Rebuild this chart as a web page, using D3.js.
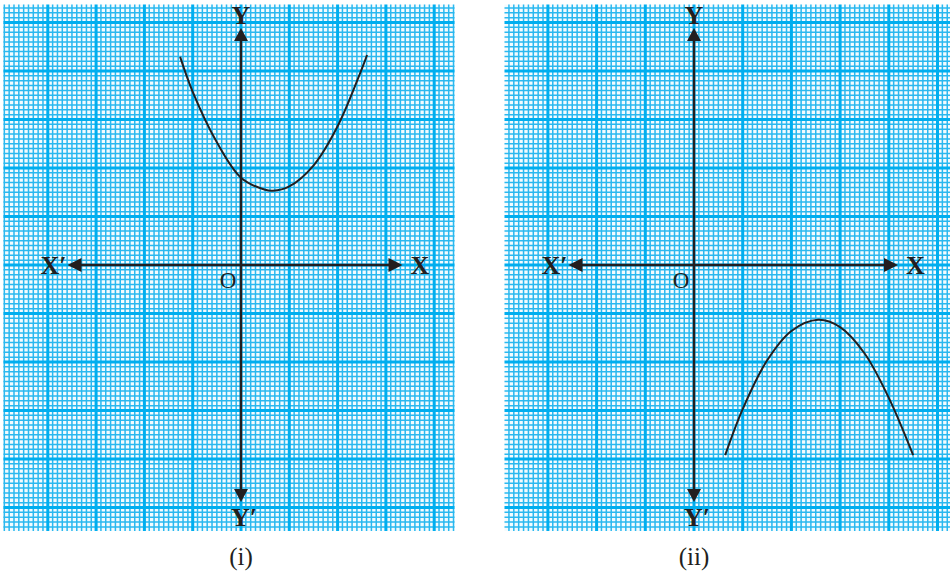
<!DOCTYPE html>
<html><head><meta charset="utf-8">
<script src="https://cdn.jsdelivr.net/npm/d3@7"></script>
<style>body{margin:0;background:#fff}svg{display:block}</style>
</head><body>
<svg id="c" width="950" height="573"></svg>
<script>
// Curve (i): upward parabola (grid units, 1 = one major square)
const curve1X = [-1.26, -1.0, -0.5, 0.0, 0.5, 0.66, 1.0, 1.5, 2.0, 2.5, 2.61];
const curve1Y = [4.29, 3.57, 2.53, 1.80, 1.55, 1.53, 1.62, 2.05, 2.86, 4.04, 4.33];
// Curve (ii): downward parabola
const curve2X = [0.64, 1.0, 1.5, 2.0, 2.55, 3.0, 3.5, 4.0, 4.5];
const curve2Y = [-3.92, -2.97, -1.97, -1.36, -1.13, -1.28, -1.82, -2.74, -3.92];
const panelLabels = ["(i)", "(ii)"];
const axisLabels = ["X", "X′", "Y", "Y′"];

const svg = d3.select("#c");

const panels = [
  {ox:241, unitX:48.3, left:3.5, right:454.5, xs:curve1X, ys:curve1Y, label:panelLabels[0]},
  {ox:694, unitX:48.7, left:504.5, right:950, xs:curve2X, ys:curve2Y, label:panelLabels[1]}
];
const oy = 265, unitY = 48.5, gTop = 4.5, gBottom = 531;

panels.forEach(p => {
  const x = d3.scaleLinear().domain([0,1]).range([p.ox, p.ox + p.unitX]);
  const y = d3.scaleLinear().domain([0,1]).range([oy, oy - unitY]);
  const g = svg.append("g");
  const uL = x.invert(p.left), uR = x.invert(p.right);
  const vT = y.invert(gTop), vB = y.invert(gBottom);
  g.append("rect").attr("x", p.left).attr("y", gTop).attr("width", p.right - p.left).attr("height", gBottom - gTop).attr("fill", "#f4fbfe");
  const vx = [];
  for (let k = Math.ceil(uL*10); k <= Math.floor(uR*10); k++) vx.push(k);
  const hy = [];
  for (let k = Math.ceil(vB*10); k <= Math.floor(vT*10); k++) hy.push(k);
  g.selectAll(".mv").data(vx.filter(k => k % 10 !== 0)).join("line")
    .attr("x1", k => x(k/10)).attr("x2", k => x(k/10)).attr("y1", gTop).attr("y2", gBottom)
    .attr("stroke", "#2ab8ef").attr("stroke-width", 1.5);
  g.selectAll(".mh").data(hy.filter(k => k % 10 !== 0)).join("line")
    .attr("y1", k => y(k/10)).attr("y2", k => y(k/10)).attr("x1", p.left).attr("x2", p.right)
    .attr("stroke", "#2ab8ef").attr("stroke-width", 1.5);
  g.selectAll(".Mv").data(vx.filter(k => k % 10 === 0)).join("line")
    .attr("x1", k => x(k/10)).attr("x2", k => x(k/10)).attr("y1", gTop).attr("y2", gBottom)
    .attr("stroke", "#00aeef").attr("stroke-width", 3);
  g.selectAll(".Mh").data(hy.filter(k => k % 10 === 0)).join("line")
    .attr("y1", k => y(k/10)).attr("y2", k => y(k/10)).attr("x1", p.left).attr("x2", p.right)
    .attr("stroke", "#00aeef").attr("stroke-width", 3);

  const ax = "#231f20";
  const xl = p.left + 64, xr = p.right - 52;
  g.append("line").attr("x1", xl + 8).attr("x2", xr - 8).attr("y1", oy).attr("y2", oy).attr("stroke", ax).attr("stroke-width", 2.4);
  g.append("line").attr("x1", p.ox).attr("x2", p.ox).attr("y1", 36).attr("y2", 494).attr("stroke", ax).attr("stroke-width", 2.4);
  const tri = (pts) => g.append("path").attr("d", d3.line()(pts) + "Z").attr("fill", ax);
  tri([[xl, oy], [xl + 14, oy - 7], [xl + 14, oy + 7]]);
  tri([[xr, oy], [xr - 14, oy - 7], [xr - 14, oy + 7]]);
  tri([[p.ox, 28], [p.ox - 7, 41], [p.ox + 7, 41]]);
  tri([[p.ox, 502], [p.ox - 7, 489], [p.ox + 7, 489]]);

  const tf = "'Liberation Serif','Times New Roman',serif";
  const txt = (t, tx, ty, anchor) => g.append("text").attr("x", tx).attr("y", ty).attr("text-anchor", anchor || "middle")
    .attr("font-family", tf).attr("font-weight", "bold").attr("font-size", 26).attr("fill", ax).text(t);
  txt(axisLabels[0], xr + 8, oy + 9, "start");
  txt(axisLabels[1], xl - 27, oy + 9, "start");
  txt(axisLabels[2], p.ox, 24);
  txt(axisLabels[3], p.ox + 3, 526);
  g.append("text").attr("x", p.ox - 13).attr("y", oy + 23).attr("text-anchor", "middle")
    .attr("font-family", tf).attr("font-size", 23).attr("fill", ax).text("O");

  const pts = p.xs.map((v, i) => [v, p.ys[i]]);
  g.append("path").attr("d", d3.line().x(d => x(d[0])).y(d => y(d[1])).curve(d3.curveCatmullRom)(pts))
    .attr("fill", "none").attr("stroke", ax).attr("stroke-width", 2);

  svg.append("text").attr("x", p.ox).attr("y", 565).attr("text-anchor", "middle")
    .attr("font-family", tf).attr("font-size", 25).attr("fill", ax).text(p.label);
});
</script>
</body></html>
